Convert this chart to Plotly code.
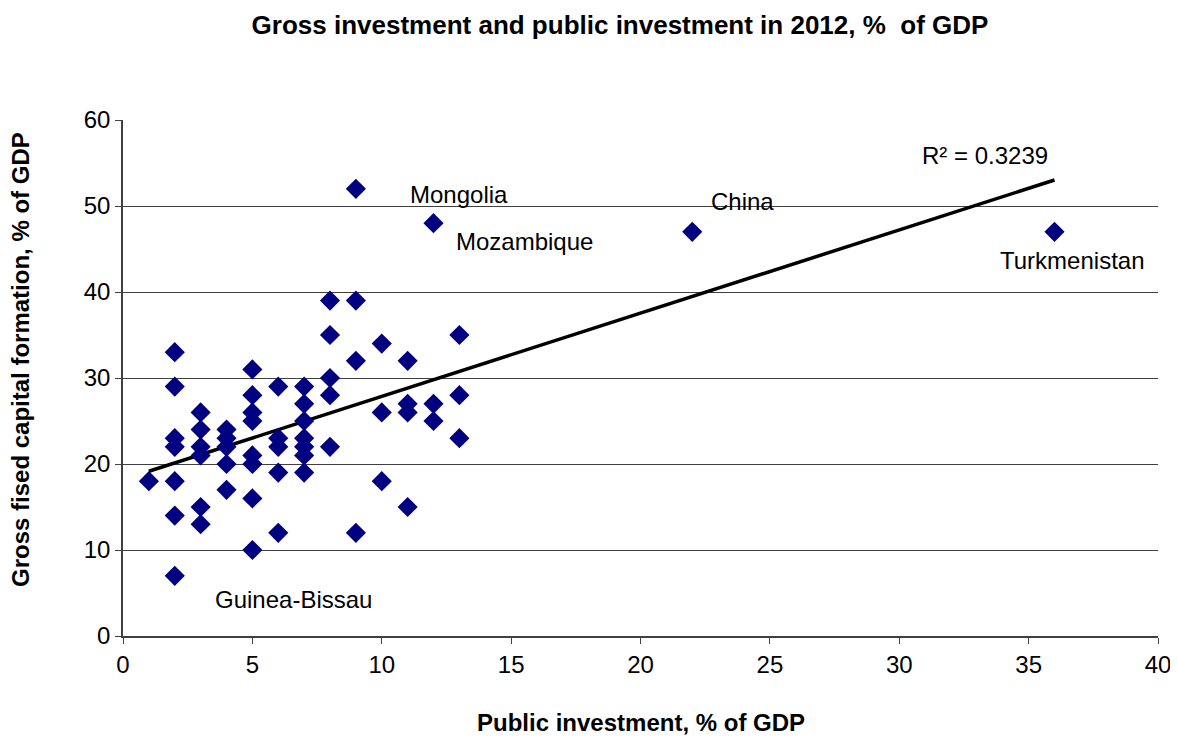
import numpy as np
import plotly.graph_objects as go

# Data
public_inv = [1,
              2, 2, 2, 2, 2, 2, 2,
              3, 3, 3, 3, 3, 3,
              4, 4, 4, 4, 4,
              5, 5, 5, 5, 5, 5, 5, 5,
              6, 6, 6, 6, 6,
              7, 7, 7, 7, 7, 7, 7,
              8, 8, 8, 8, 8,
              9, 9, 9, 9,
              10, 10, 10,
              11, 11, 11, 11,
              12, 12, 12,
              13, 13, 13,
              22, 36]
gross_inv = [18,
             33, 29, 23, 22, 18, 14, 7,
             26, 24, 22, 21, 15, 13,
             24, 23, 22, 20, 17,
             31, 28, 26, 25, 21, 20, 16, 10,
             29, 23, 22, 19, 12,
             29, 27, 25, 23, 22, 21, 19,
             39, 35, 30, 28, 22,
             52, 39, 32, 12,
             34, 26, 18,
             32, 27, 26, 15,
             48, 27, 25,
             35, 28, 23,
             47, 47]

label_text = ["Mongolia", "Mozambique", "China", "Turkmenistan", "Guinea-Bissau", "R² = 0.3239"]
label_x = [13.0, 15.5, 23.95, 36.7, 6.6, 33.3]
label_y = [51.3, 45.9, 50.5, 43.7, 4.2, 55.9]

x_ticks = [0, 5, 10, 15, 20, 25, 30, 35, 40]
y_ticks = [0, 10, 20, 30, 40, 50, 60]

# Linear trend fitted to the data
slope, intercept = np.polyfit(public_inv, gross_inv, 1)
trend_x = np.array([min(public_inv), max(public_inv)])
trend_y = slope * trend_x + intercept

FONT = "Liberation Sans, Arial, sans-serif"

fig = go.Figure()
fig.add_trace(go.Scatter(
    x=trend_x, y=trend_y, mode="lines",
    line=dict(color="black", width=3.5), hoverinfo="skip", showlegend=False))
fig.add_trace(go.Scatter(
    x=public_inv, y=gross_inv, mode="markers",
    marker=dict(symbol="diamond", size=15.5, color="#000080",
                line=dict(width=0)),
    showlegend=False))

for t, lx, ly in zip(label_text, label_x, label_y):
    fig.add_annotation(x=lx, y=ly, text=t, showarrow=False,
                       font=dict(family=FONT, size=24, color="black"),
                       xanchor="center", yanchor="middle")

# page has an 8px body margin at top-left
W, H = 1170, 731
ML, MR, MT, MB = 115, 20, 112, 103
PH = H - MT - MB

# axis titles
fig.add_annotation(xref="paper", yref="paper", x=0.5, y=-(714 - (H - MB)) / PH,
                   text="<b>Public investment, % of GDP</b>", showarrow=False,
                   font=dict(family=FONT, size=24, color="black"),
                   xanchor="center", yanchor="middle")
fig.add_annotation(xref="paper", yref="paper", x=-(ML - 12) / (W - ML - MR),
                   y=(H - MB - 352) / PH,
                   text="<b>Gross fised capital formation, % of GDP</b>", showarrow=False,
                   textangle=-90,
                   font=dict(family=FONT, size=24, color="black"),
                   xanchor="center", yanchor="middle")

fig.update_layout(
    width=W, height=H,
    margin=dict(l=ML, r=MR, t=MT, b=MB),
    paper_bgcolor="white", plot_bgcolor="white",
    title=dict(text="<b>Gross investment and public investment in 2012, %  of GDP</b>",
               x=612 / W, xanchor="center", y=1 - 17 / H, yanchor="middle",
               font=dict(family=FONT, size=26, color="black")),
    font=dict(family=FONT, size=24, color="black"),
)
fig.update_xaxes(
    range=[0, 40], tickvals=x_ticks, showgrid=False, zeroline=False,
    showline=True, linecolor="#404040", linewidth=1.5,
    ticks="outside", ticklen=6, tickcolor="#404040",
    tickfont=dict(family=FONT, size=24), automargin=False,
    ticklabeloverflow="allow")
fig.update_yaxes(
    range=[0, 60], tickvals=y_ticks, showgrid=True, gridcolor="#404040",
    gridwidth=1, zeroline=False,
    showline=True, linecolor="#404040", linewidth=1.5,
    ticks="outside", ticklen=6, tickcolor="#404040",
    tickfont=dict(family=FONT, size=24), automargin=False,
    ticklabeloverflow="allow")

fig.write_html("out.html")
